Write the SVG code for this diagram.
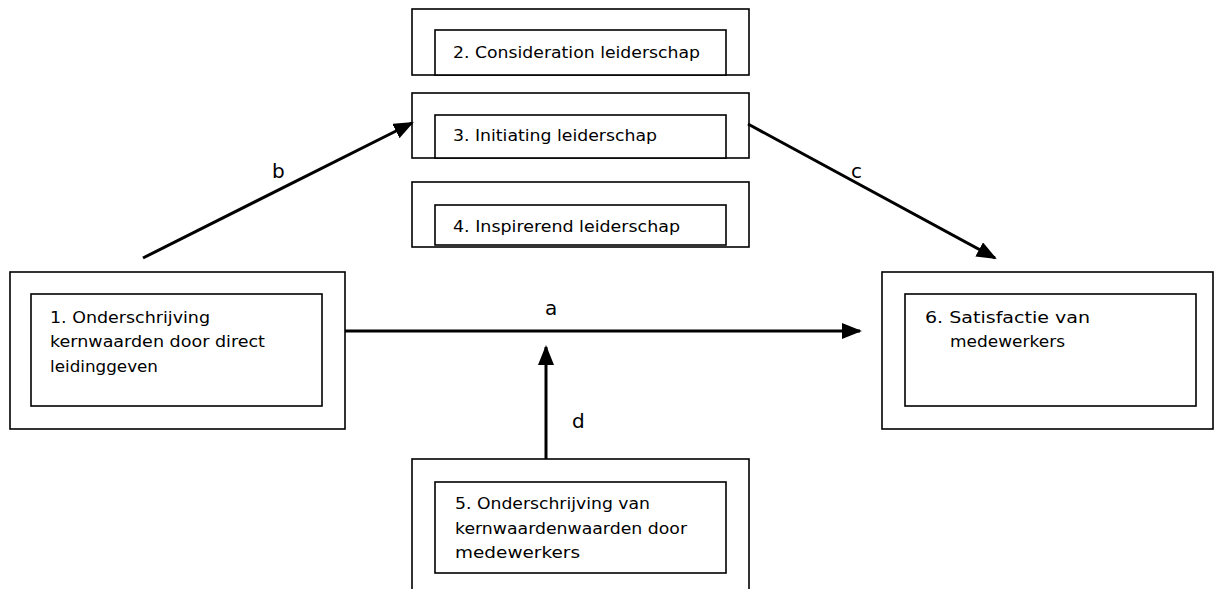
<svg xmlns="http://www.w3.org/2000/svg" width="1215" height="589" viewBox="0 0 1215 589">
<style>
.box{fill:#fff;stroke:#000;stroke-width:1.6}
.t{font-family:"DejaVu Sans",Verdana,sans-serif;font-size:16.5px;fill:#000}
.lbl{font-family:"DejaVu Sans",Verdana,sans-serif;font-size:20px;fill:#000}
.conn{stroke:#000;stroke-width:3;fill:none}
</style>
<defs>
<marker id="ah" markerUnits="userSpaceOnUse" markerWidth="20" markerHeight="16" refX="18" refY="8" orient="auto">
<path d="M0,0 L20,8 L0,16 Z" fill="#000"/>
</marker>
</defs>
<rect width="1215" height="589" fill="#fff"/>
<g id="node2">
<rect class="box" x="412" y="9" width="337" height="66"/>
<rect class="box" x="435" y="30" width="291" height="45"/>
<text class="t" x="453" y="58" textLength="247" lengthAdjust="spacingAndGlyphs">2. Consideration leiderschap</text>
</g>
<g id="node3">
<rect class="box" x="412" y="93" width="337" height="65"/>
<rect class="box" x="435" y="115" width="291" height="43"/>
<text class="t" x="453" y="141" textLength="204" lengthAdjust="spacingAndGlyphs">3. Initiating leiderschap</text>
</g>
<g id="node4">
<rect class="box" x="412" y="182" width="337" height="65"/>
<rect class="box" x="435" y="205" width="291" height="40"/>
<text class="t" x="453" y="232" textLength="227" lengthAdjust="spacingAndGlyphs">4. Inspirerend leiderschap</text>
</g>
<g id="node1">
<rect class="box" x="10" y="272" width="335" height="157"/>
<rect class="box" x="31" y="294" width="291" height="112"/>
<text class="t" x="50" y="323" textLength="160" lengthAdjust="spacingAndGlyphs">1. Onderschrijving</text>
<text class="t" x="50" y="347" textLength="215" lengthAdjust="spacingAndGlyphs">kernwaarden door direct</text>
<text class="t" x="50" y="372" textLength="108" lengthAdjust="spacingAndGlyphs">leidinggeven</text>
</g>
<g id="node6">
<rect class="box" x="882" y="272" width="331" height="157"/>
<rect class="box" x="905" y="294" width="291" height="112"/>
<text class="t" x="925" y="323" textLength="165" lengthAdjust="spacingAndGlyphs">6. Satisfactie van</text>
<text class="t" x="950" y="347" textLength="115" lengthAdjust="spacingAndGlyphs">medewerkers</text>
</g>
<g id="node5">
<rect class="box" x="412" y="459" width="337" height="140"/>
<rect class="box" x="435" y="482" width="291" height="91"/>
<text class="t" x="455" y="509" textLength="195" lengthAdjust="spacingAndGlyphs">5. Onderschrijving van</text>
<text class="t" x="455" y="534" textLength="232" lengthAdjust="spacingAndGlyphs">kernwaardenwaarden door</text>
<text class="t" x="455" y="558" textLength="125" lengthAdjust="spacingAndGlyphs">medewerkers</text>
</g>
<g id="connectors">
<line class="conn" x1="143" y1="258" x2="412" y2="123" marker-end="url(#ah)"/>
<line class="conn" x1="748" y1="124" x2="995" y2="258" marker-end="url(#ah)"/>
<line class="conn" x1="345" y1="331" x2="860" y2="331" marker-end="url(#ah)"/>
<line class="conn" x1="546" y1="459" x2="546" y2="347" marker-end="url(#ah)"/>
<text class="lbl" x="272" y="178">b</text>
<text class="lbl" x="851" y="178">c</text>
<text class="lbl" x="545" y="315">a</text>
<text class="lbl" x="572" y="428">d</text>
</g>
</svg>
